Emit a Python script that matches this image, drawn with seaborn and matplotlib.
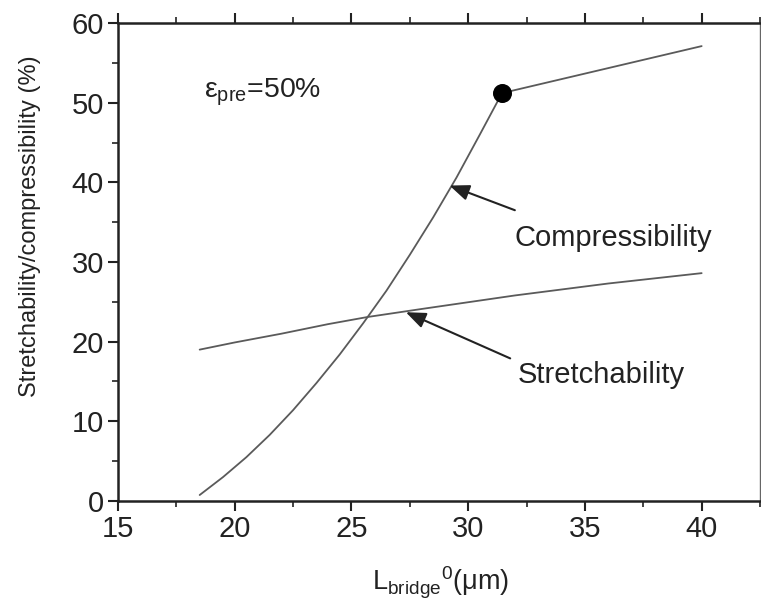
import matplotlib
matplotlib.use("Agg")
import matplotlib.pyplot as plt
import seaborn as sns
import pandas as pd
from matplotlib.ticker import MultipleLocator

# Data
comp_x = [18.5, 19.5, 20.5, 21.5, 22.5, 23.5, 24.5, 25.5, 26.5, 27.5, 28.5,
          29.5, 30.5, 31.45, 40.0]
comp_y = [0.75, 3.0, 5.5, 8.3, 11.4, 14.8, 18.4, 22.3, 26.4, 30.9, 35.6,
          40.6, 46.0, 51.2, 57.1]
stretch_x = [18.5, 20.0, 22.0, 24.0, 25.7, 28.0, 32.0, 36.0, 40.0]
stretch_y = [19.0, 19.9, 21.0, 22.2, 23.1, 24.1, 25.8, 27.3, 28.6]
kink_x = [31.45]
kink_y = [51.2]

sns.set_theme(style="ticks")
plt.rcParams['font.family'] = ['Liberation Sans', 'DejaVu Sans']
plt.rcParams['mathtext.fontset'] = 'custom'
plt.rcParams['mathtext.rm'] = 'Liberation Sans'
plt.rcParams['mathtext.it'] = 'Liberation Sans:italic'
plt.rcParams['mathtext.default'] = 'regular'

fig = plt.figure(figsize=(7.61, 6.12), dpi=100)
ax = fig.add_axes([0.155, 0.1814, 0.8437, 0.781])

comp_df = pd.DataFrame({"x": comp_x, "y": comp_y})
stretch_df = pd.DataFrame({"x": stretch_x, "y": stretch_y})
kink_df = pd.DataFrame({"x": kink_x, "y": kink_y})

line_col = "#5a5a5a"
sns.lineplot(data=comp_df, x="x", y="y", ax=ax, color=line_col, lw=1.3,
             estimator=None, sort=False)
sns.lineplot(data=stretch_df, x="x", y="y", ax=ax, color=line_col, lw=1.3,
             estimator=None, sort=False)
sns.scatterplot(data=kink_df, x="x", y="y", ax=ax, color="black", s=160,
                edgecolor="black", zorder=5)

ax.set_xlim(15, 42.5)
ax.set_ylim(0, 60)
ax.xaxis.set_major_locator(MultipleLocator(5))
ax.xaxis.set_minor_locator(MultipleLocator(2.5))
ax.yaxis.set_major_locator(MultipleLocator(10))
ax.yaxis.set_minor_locator(MultipleLocator(5))

ax.tick_params(axis='both', which='major', direction='out', length=7, width=1.5,
               labelsize=21, color='#222222', labelcolor='#222222', pad=3)
ax.tick_params(axis='both', which='minor', direction='out', length=4, width=1.2,
               color='#222222')
ax.tick_params(axis='x', which='both', top=True, labeltop=False)
ax.tick_params(axis='y', which='both', right=False)

for side in ['left', 'bottom', 'top']:
    ax.spines[side].set_linewidth(1.8)
    ax.spines[side].set_color('#222222')
ax.spines['right'].set_linewidth(1.0)
ax.spines['right'].set_color('#666666')

ax.set_xlabel(r'L$_{bridge}$$^{0}$(μm)', fontsize=19.5, color='#222222')
ax.set_ylabel('Stretchability/compressibility (%)', fontsize=17, color='#222222')
ax.yaxis.set_label_coords(-0.12, 0.575)
ax.xaxis.set_label_coords(0.503, -0.134)

ax.text(18.7, 50.7, r'ε$_{pre}$=50%', fontsize=20.5, color='#222222',
        ha='left', va='baseline')

arrow_style = '-|>,head_length=1.0,head_width=0.4'
ax.annotate('', xy=(29.2, 39.6), xytext=(32.0, 36.5),
            arrowprops=dict(arrowstyle=arrow_style,
                            color='#222222', lw=1.5, shrinkA=0, shrinkB=0))
ax.annotate('', xy=(27.33, 23.7), xytext=(31.8, 17.9),
            arrowprops=dict(arrowstyle=arrow_style,
                            color='#222222', lw=1.5, shrinkA=0, shrinkB=0))
ax.text(36.23, 33.0, 'Compressibility', fontsize=21, color='#222222',
        ha='center', va='center')
ax.text(35.72, 15.8, 'Stretchability', fontsize=21, color='#222222',
        ha='center', va='center')

fig.savefig("out.png", dpi=100, facecolor='white')
